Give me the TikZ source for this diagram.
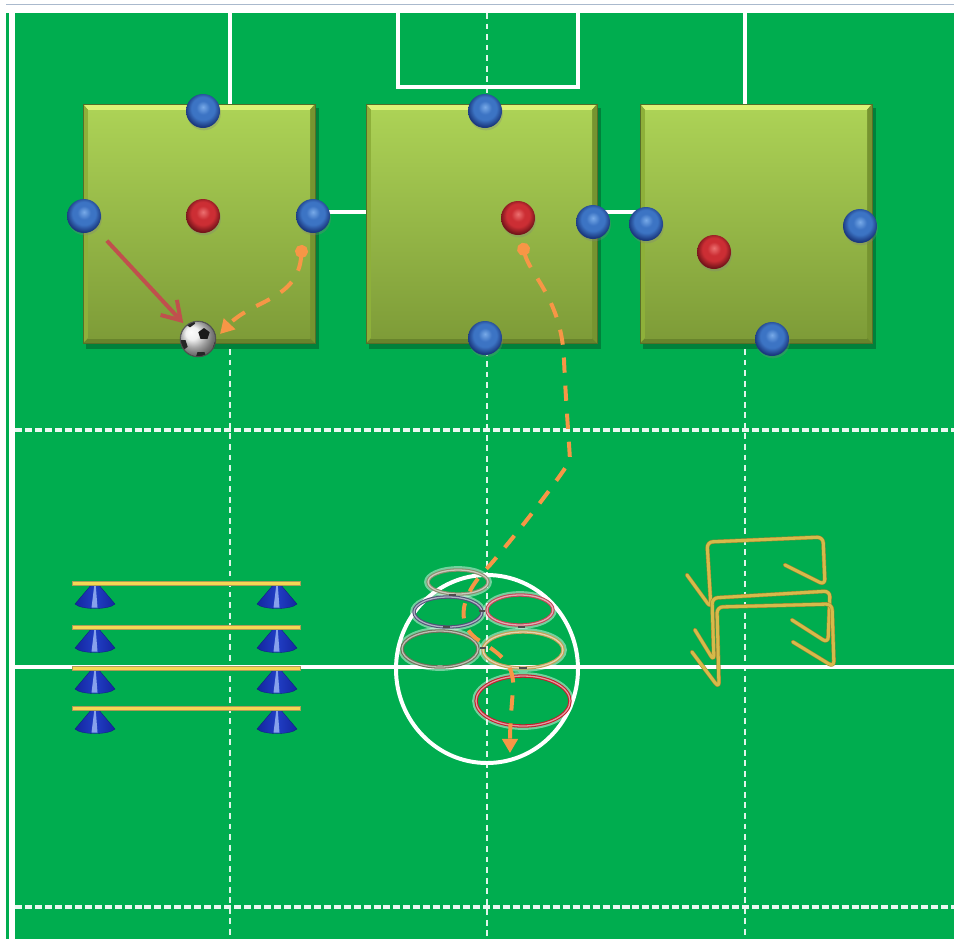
\documentclass[tikz,border=0pt]{standalone}
\usetikzlibrary{arrows.meta,shapes.geometric,shadows,calc}

\definecolor{pitch}{RGB}{0,173,79}
\definecolor{rimgrey}{RGB}{170,185,205}
\definecolor{boxtop}{RGB}{172,210,86}
\definecolor{boxbot}{RGB}{126,156,56}
\definecolor{bevlight}{RGB}{220,242,118}
\definecolor{bevleft}{RGB}{142,176,58}
\definecolor{bevright}{RGB}{118,148,48}
\definecolor{bevdark}{RGB}{104,132,44}
\definecolor{boxedge}{RGB}{86,110,40}
\definecolor{passred}{RGB}{192,80,77}
\definecolor{runorange}{RGB}{247,150,70}
\definecolor{conedark}{RGB}{20,38,160}
\definecolor{conemid}{RGB}{32,62,196}
\definecolor{conelight}{RGB}{170,195,250}
\definecolor{polefill}{RGB}{244,216,84}
\definecolor{poleedge}{RGB}{175,155,85}
\definecolor{hurdlegold}{RGB}{214,186,74}
\definecolor{hurdledark}{RGB}{160,134,48}
\definecolor{hoopolive}{RGB}{140,140,110}
\definecolor{hoopnavy}{RGB}{80,82,120}
\definecolor{hooppink}{RGB}{196,70,88}
\definecolor{hoopgrey}{RGB}{110,112,88}
\definecolor{hooptan}{RGB}{196,160,84}
\definecolor{hoopred}{RGB}{196,28,44}

% sphere colours
\definecolor{sbhi}{RGB}{120,170,232}
\definecolor{sbmid}{RGB}{60,116,196}
\definecolor{sbrim}{RGB}{26,56,126}
\definecolor{srhi}{RGB}{236,112,112}
\definecolor{srmid}{RGB}{204,46,52}
\definecolor{srrim}{RGB}{116,20,26}
\pgfdeclareradialshading{sphereblue}{\pgfpoint{0bp}{6bp}}{%
  color(0bp)=(sbhi); color(10bp)=(sbmid); color(17bp)=(sbmid); color(26bp)=(sbrim); color(50bp)=(sbrim)}
\pgfdeclareradialshading{spherered}{\pgfpoint{0bp}{6bp}}{%
  color(0bp)=(srhi); color(10bp)=(srmid); color(17bp)=(srmid); color(26bp)=(srrim); color(50bp)=(srrim)}

\tikzset{
  solidline/.style={white, line width=4.2pt},
  thinsolid/.style={white, line width=2.6pt},
  gridv/.style={white!88!pitch, line width=1.6pt, dash pattern=on 5pt off 4pt},
  gridh/.style={white!92!pitch, line width=2.6pt, dash pattern=on 6pt off 2.5pt},
  player/.style={circle, minimum size=1.02cm, inner sep=0pt, shading=#1,
    drop shadow={shadow xshift=0.8pt, shadow yshift=-2pt, opacity=0.3}},
  pass/.style={passred, line width=3.4pt, -{Straight Barb[length=15pt,width=19pt]}},
  run/.style={runorange, line width=3.4pt, dash pattern=on 13pt off 11pt,
    {Circle[length=11pt,width=11pt]}-{Triangle[length=12pt,width=13pt]}},
  hoop/.style={draw=#1, double=#1!45!white, double distance=1.1pt, line width=0.9pt},
  hoophalo/.style={white, line width=3.2pt, opacity=0.45},
  knot/.style={black!70, line width=2.2pt},
  pole/.style={fill=polefill, draw=poleedge, line width=0.4pt},
  cone/.style={left color=conedark, right color=conedark, middle color=conemid, draw=conedark!80!black, line width=0.3pt},
  conestripe/.style={fill=conelight, opacity=0.75},
  hurdlebar/.style={draw=hurdledark, double=hurdlegold, double distance=2.6pt, line width=0.45pt,
    rounded corners=5pt, line join=round, line cap=round},
}

% bevelled drill square: left, top, right, bottom (pixel units)
\newcommand{\drillarea}[4]{%
  \fill[black, opacity=0.25] (#1+3,#2+4) rectangle (#3+4,#4+6);
  \fill[bevdark] (#1,#2) rectangle (#3,#4);
  \fill[bevlight] (#1,#2) -- (#3,#2) -- (#3-5,#2+6) -- (#1+5,#2+6) -- cycle;
  \fill[bevleft] (#1,#2) -- (#1+5,#2+6) -- (#1+5,#4-5) -- (#1,#4) -- cycle;
  \fill[bevright] (#3,#2) -- (#3,#4) -- (#3-5,#4-5) -- (#3-5,#2+6) -- cycle;
  \fill[top color=boxtop, bottom color=boxbot] (#1+5,#2+6) rectangle (#3-5,#4-5);
  \draw[boxedge, line width=0.5pt] (#1,#2) rectangle (#3,#4);
}

% marker cone standing under a pole, apex at (x,y)
\newcommand{\markercone}[2]{%
  \path[cone] (#1-3,#2+1) -- (#1-20,#2+21)
     .. controls (#1-14,#2+27) and (#1+14,#2+27) .. (#1+20,#2+21)
     -- (#1+3,#2+1) -- cycle;
  \path[conestripe] (#1-0.8,#2+3) -- (#1-3.5,#2+24.5) -- (#1+2.5,#2+24.5) -- (#1+0.8,#2+3) -- cycle;
}

\begin{document}
\begin{tikzpicture}[x=0.03cm, y=-0.03cm]
  \useasboundingbox (0,0) rectangle (954,939);
  \fill[white] (0,0) rectangle (954,939);
  \draw[rimgrey, line width=1.2pt] (6,4.5) -- (954,4.5);

  % pitch and markings
  \fill[pitch] (6,13) rectangle (954,939);
  \draw[white, line width=4.6pt] (12,7) -- (12,939);

  \draw[gridv] (230,212) -- (230,939);
  \draw[gridv] (745,212) -- (745,939);
  \draw[gridv] (487,13) -- (487,939);
  \draw[gridh] (15,430) -- (954,430);
  \draw[gridh] (15,907) -- (954,907);

  \draw[solidline] (230,9) -- (230,212) -- (745,212) -- (745,9);
  \draw[thinsolid] (398,9) -- (398,87) -- (578,87) -- (578,9);
  \draw[solidline] (15,667) -- (954,667);
  \draw[white, line width=3.4pt] (487,669) ellipse [x radius=91, y radius=94];

  % drill squares
  \drillarea{83}{104}{315}{343}
  \drillarea{366}{104}{597}{343}
  \drillarea{640}{104}{872}{343}

  % players
  \node[player=sphereblue] (b1n) at (203,111) {};
  \node[player=sphereblue] (b1w) at (84,216) {};
  \node[player=sphereblue] (b1e) at (313,216) {};
  \node[player=spherered]  (r1)  at (203,216) {};

  \node[player=sphereblue] (b2n) at (485,111) {};
  \node[player=sphereblue] (b2e) at (593,222) {};
  \node[player=sphereblue] (b2s) at (485,338) {};
  \node[player=spherered]  (r2)  at (518,218) {};

  \node[player=sphereblue] (b3w) at (646,224) {};
  \node[player=sphereblue] (b3e) at (860,226) {};
  \node[player=sphereblue] (b3s) at (772,339) {};
  \node[player=spherered]  (r3)  at (714,252) {};

  % football
  \node[circle, minimum size=1.08cm, inner sep=0pt, ball color=white!92!black,
        draw=black!70, line width=0.4pt] (ball) at (198,339) {};
  \begin{scope}
    \clip (198,339) circle [radius=17.5];
    \node[regular polygon, regular polygon sides=5, fill=black!90, inner sep=0pt, minimum size=0.36cm] at (204,334) {};
    \node[regular polygon, regular polygon sides=5, fill=black!85, inner sep=0pt, minimum size=0.36cm, rotate=36] at (182,345) {};
    \node[regular polygon, regular polygon sides=5, fill=black!85, inner sep=0pt, minimum size=0.36cm, rotate=36] at (201,357) {};
    \node[regular polygon, regular polygon sides=5, fill=black!85, inner sep=0pt, minimum size=0.32cm, rotate=36] at (190,322) {};
    \node[regular polygon, regular polygon sides=5, fill=black!85, inner sep=0pt, minimum size=0.32cm, rotate=36] at (218,346) {};
    \node[regular polygon, regular polygon sides=5, fill=black!85, inner sep=0pt, minimum size=0.3cm, rotate=36] at (214,322) {};
  \end{scope}
  \draw[black!70, line width=0.5pt] (ball) circle [radius=17.5];

  % passes and runs
  \draw[pass, shorten <=14pt, shorten >=3pt] (b1w) -- (ball);
  \coordinate (run1) at (302,245);
  \coordinate (run1end) at (220,334);
  \draw[run] (run1) .. controls (298,300) and (252,300) .. (run1end);

  \coordinate (run2) at (522,243);
  \coordinate (run2end) at (510,753);

  % ring ladder around the centre circle
  \foreach \cx/\cy/\rx/\ry in {458/582/30/12, 448/612/34/15, 520/610/33/15,
                                440/649/38/18, 523/650/40/18, 523/701/47/25}
    \draw[hoophalo] (\cx,\cy) ellipse [x radius=\rx+2, y radius=\ry+2];
  \draw[hoop=hoopolive] (458,582) ellipse [x radius=30, y radius=12];
  \draw[hoop=hoopnavy]  (448,612) ellipse [x radius=34, y radius=15];
  \draw[hoop=hooppink]  (520,610) ellipse [x radius=33, y radius=15];
  \draw[hoop=hoopgrey]  (440,649) ellipse [x radius=38, y radius=18];
  \draw[hoop=hooptan]   (523,650) ellipse [x radius=40, y radius=18];
  \draw[hoop=hoopred]   (523,701) ellipse [x radius=47, y radius=25];
  \draw[knot] (449,595) -- (456,595);
  \draw[knot] (479,611) -- (485,611);
  \draw[knot] (443,627) -- (450,627);
  \draw[knot] (518,627) -- (525,627);
  \draw[knot] (480,648) -- (486,648);
  \draw[knot] (519,668) -- (527,668);

  \draw[run] (run2) .. controls (530,275) and (562,300) .. (564,360)
     .. controls (566,405) and (569,440) .. (570,461)
     .. controls (552,488) and (520,530) .. (490,565)
     .. controls (455,600) and (458,628) .. (480,641)
     .. controls (502,655) and (515,665) .. (513,690)
     .. controls (511,712) and (510,730) .. (run2end);

  % agility ladder: poles resting on marker cones
  \foreach \py in {583,627,668,708} {
    \markercone{95}{\py}
    \markercone{277}{\py}
    \path[pole] (72,\py-2) rectangle (300,\py+2);
  }

  % hurdles
  \draw[hurdlebar] (687,575) -- (711,608) -- (707,542) -- (823,537) -- (825,585) -- (785,565);
  \draw[hurdlebar] (695,630) -- (714,661) -- (712,598) -- (830,591) -- (828,643) -- (792,620);
  \draw[hurdlebar] (692,652) -- (719,688) -- (717,607) -- (832,604) -- (834,667) -- (793,642);
\end{tikzpicture}
\end{document}
